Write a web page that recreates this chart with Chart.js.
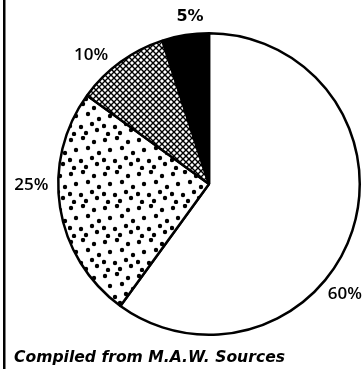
<!DOCTYPE html>
<html>
<head>
<meta charset="utf-8">
<script src="https://cdn.jsdelivr.net/npm/chart.js@4.4.1/dist/chart.umd.min.js"></script>
<style>
  html, body { margin: 0; padding: 0; background: #fff; }
  #wrap { position: relative; width: 364px; height: 371px; }
</style>
</head>
<body>
<div id="wrap"><canvas id="pie" width="364" height="371"></canvas></div>
<script>
// shares, clockwise from 12 o'clock
const categories = ['A', 'B', 'C', 'D'];
const shares = [60, 25, 10, 5];
const shareLabels = ['60%', '25%', '10%', '5%'];
const caption = 'Compiled from M.A.W. Sources';

// label placement: angle shift (deg) from slice middle, gap past the rim (px)
const labelShift = [21, 8.5, -6.4, 2.5];
const labelGap = [24, 27, 24, 17];

// fill patterns for the hatched slices
function dotPattern() {
    const c = document.createElement('canvas');
    c.width = 34; c.height = 34;
    const g = c.getContext('2d');
    g.fillStyle = '#fff';
    g.fillRect(0, 0, 34, 34);
    g.fillStyle = '#000';
    const pts = [
        [3, 4], [15, 2], [26, 6], [8, 14], [20, 12], [31, 17],
        [2, 24], [13, 25], [24, 22], [6, 32], [18, 31], [29, 28]
    ];
    pts.forEach(([x, y]) => {
        g.beginPath();
        g.arc(x, y, 2.2, 0, Math.PI * 2);
        g.fill();
    });
    return g.createPattern(c, 'repeat');
}

function hatchPattern() {
    const s = 6;
    const c = document.createElement('canvas');
    c.width = s; c.height = s;
    const g = c.getContext('2d');
    g.fillStyle = '#fff';
    g.fillRect(0, 0, s, s);
    g.strokeStyle = '#000';
    g.lineWidth = 1.4;
    [-s, 0, s].forEach(o => {
        g.beginPath();
        g.moveTo(o - 1, -1); g.lineTo(o + s + 1, s + 1);
        g.moveTo(o + s + 1, -1); g.lineTo(o - 1, s + 1);
        g.stroke();
    });
    return g.createPattern(c, 'repeat');
}

const decorations = {
    id: 'decorations',
    afterDraw(chart) {
        const ctx = chart.ctx;
        const arcs = chart.getDatasetMeta(0).data;
        ctx.save();

        // percentage labels around the rim
        ctx.fillStyle = '#000';
        ctx.textAlign = 'center';
        ctx.textBaseline = 'middle';
        arcs.forEach((arc, i) => {
            const p = arc.getProps(['x', 'y', 'startAngle', 'endAngle', 'outerRadius'], true);
            const a = (p.startAngle + p.endAngle) / 2 + labelShift[i] * Math.PI / 180;
            const r = p.outerRadius + labelGap[i];
            ctx.font = i === 3
                ? 'bold 16px "DejaVu Sans", sans-serif'
                : '600 17px "Open Sans", "DejaVu Sans", sans-serif';
            ctx.fillText(shareLabels[i], p.x + r * Math.cos(a), p.y + r * Math.sin(a));
        });

        // left rule
        ctx.fillRect(3, 0, 2.5, 369);

        // source note
        ctx.font = 'italic bold 15px "DejaVu Sans", sans-serif';
        ctx.textAlign = 'left';
        ctx.textBaseline = 'alphabetic';
        const w = ctx.measureText(caption).width;
        ctx.translate(14, 362);
        ctx.scale(271 / w, 1);
        ctx.fillText(caption, 0, 0);
        ctx.restore();
    }
};

new Chart(document.getElementById('pie'), {
    type: 'pie',
    data: {
        labels: categories,
        datasets: [{
            data: shares,
            backgroundColor: ['#ffffff', dotPattern(), hatchPattern(), '#000000'],
            borderColor: '#000',
            borderWidth: 2.5
        }]
    },
    options: {
        responsive: false,
        animation: false,
        layout: { padding: { left: 57, right: 3, top: 32, bottom: 35 } },
        plugins: {
            legend: { display: false },
            tooltip: { enabled: false }
        }
    },
    plugins: [decorations]
});
</script>
</body>
</html>
